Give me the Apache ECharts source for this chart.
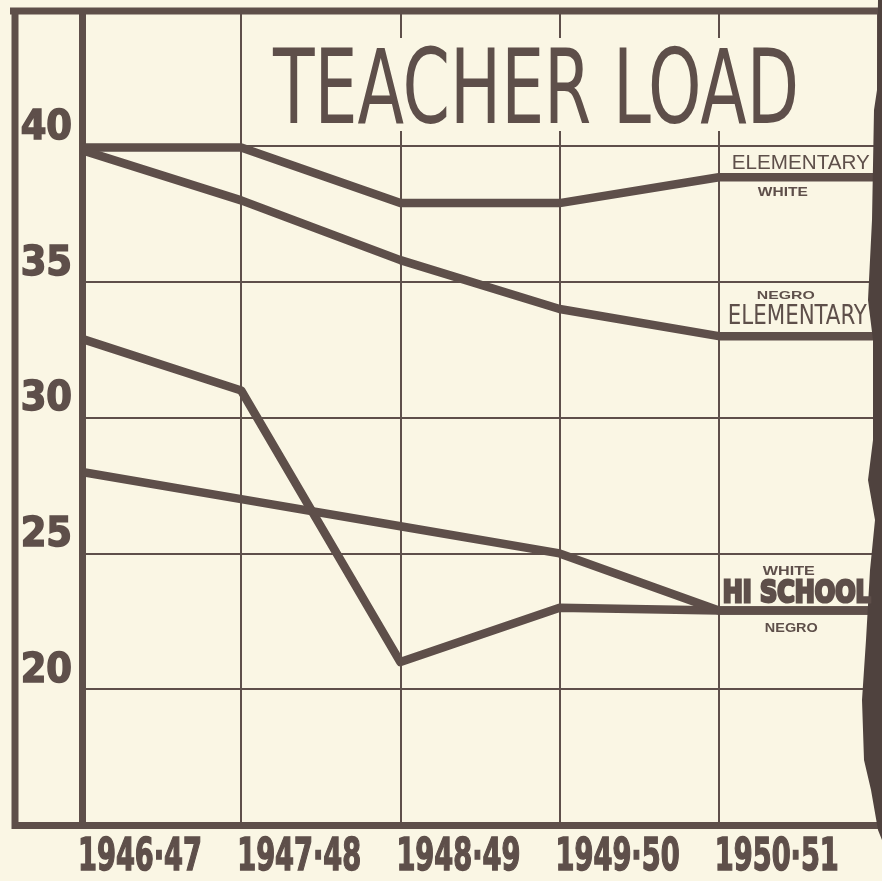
<!DOCTYPE html>
<html><head><meta charset="utf-8">
<script src="https://cdn.jsdelivr.net/npm/echarts@6/dist/echarts.min.js"></script>
<style>html,body{margin:0;padding:0;background:#faf6e4}#c{width:882px;height:881px}</style>
</head><body><div id="c"></div>
<script>
// ---- data ----
const categories = ['1946·47', '1947·48', '1948·49', '1949·50', '1950·51', ''];
const whiteElementary = [39.95, 39.95, 37.9, 37.9, 38.85, 38.85];
const negroElementary = [39.85, 38.0, 35.8, 34.0, 33.0, 33.0];
const negroHiSchool = [32.9, 31.0, 21.0, 23.0, 22.9, 22.9];
const whiteHiSchool = [28.0, 27.0, 26.0, 25.0, 22.9, 22.9];
const yTickLabels = [20, 25, 30, 35, 40];
const titleText = 'TEACHER LOAD';

// ---- style ----
const INK = '#5e4f4a';
const BG = '#faf6e4';
const COND = "'DejaVu Sans Condensed', 'DejaVu Sans', sans-serif";
const SANS = "'Liberation Sans', 'DejaVu Sans', sans-serif";

const chart = echarts.init(document.getElementById('c'), null, {renderer: 'canvas'});

function lineSeries(name, data) {
  return {
    name, type: 'line', data, symbol: 'none', z: 5,
    lineStyle: {color: INK, width: 8.5, join: 'round', cap: 'butt'},
    animation: false
  };
}

chart.setOption({
  backgroundColor: BG,
  animation: false,
  grid: {left: 82, right: 4, top: 13, bottom: 56, containLabel: false, outerBoundsMode: 'none'},
  xAxis: {
    type: 'category', data: categories, boundaryGap: false,
    axisLine: {show: true, lineStyle: {color: INK, width: 7}},
    axisTick: {show: false},
    axisLabel: {show: false, interval: 0},
    splitLine: {show: true, interval: 0, lineStyle: {color: INK, width: 2}}
  },
  yAxis: {
    type: 'value', min: 15, max: 44.9, interval: 5,
    axisLine: {show: true, lineStyle: {color: INK, width: 7}},
    axisTick: {show: false},
    axisLabel: {
      show: true, margin: 10, color: INK,
      fontFamily: COND, fontWeight: 'bold', fontSize: 41,
      textBorderColor: INK, textBorderWidth: 1.5,
      verticalAlign: 'bottom', lineHeight: 36,
      formatter: v => yTickLabels.includes(v) ? String(v) : ''
    },
    splitLine: {show: true, lineStyle: {color: INK, width: 2}}
  },
  series: [
    lineSeries('White Elementary', whiteElementary),
    lineSeries('Negro Elementary', negroElementary),
    lineSeries('Negro Hi School', negroHiSchool),
    lineSeries('White Hi School', whiteHiSchool)
  ]
});

const measureCtx = document.createElement('canvas').getContext('2d');
function textWidth(text, font) { measureCtx.font = font; return measureCtx.measureText(text).width; }

function label(text, font, x, y, targetWidth, opts) {
  opts = opts || {};
  const s = targetWidth ? targetWidth / textWidth(text, font) : (opts.scale || 1);
  const style = {text, font, fill: INK, textAlign: opts.align || 'left', textVerticalAlign: 'middle'};
  if (opts.stroke) { style.stroke = INK; style.lineWidth = opts.stroke; }
  return {type: 'text', x, y, scaleX: s, z: 20, style};
}

const last = categories.length - 2; // 1950-51 index
const toPx = (i, v) => chart.convertToPixel({gridIndex: 0}, [i, v]);
const px = toPx(last, 15)[0];
const yWE = toPx(last, whiteElementary[last])[1];
const yNE = toPx(last, negroElementary[last])[1];
const yHS = toPx(last, negroHiSchool[last])[1];

const titleFont = "normal 104px " + COND;
const xFont = "bold 45px " + COND;
const xScale = 124 / textWidth(categories[0], xFont);

const graphics = [
  // outer frame
  {type: 'line', z: 15, shape: {x1: 10, y1: 11, x2: 882, y2: 11}, style: {stroke: INK, lineWidth: 7}},
  {type: 'line', z: 15, shape: {x1: 15, y1: 8, x2: 15, y2: 829}, style: {stroke: INK, lineWidth: 7}},
  {type: 'line', z: 15, shape: {x1: 12, y1: 825.5, x2: 85, y2: 825.5}, style: {stroke: INK, lineWidth: 7}},
  // title backdrop
  {type: 'rect', z: 1, shape: {x: 252, y: 38, width: 610, height: 93}, style: {fill: BG}},
  // right photo edge
  {type: 'polygon', z: 16, shape: {points: [[882,0],[878,0],[877,90],[874,110],[872,220],[868,300],[873,340],[873,440],[868,480],[875,520],[870,570],[866,640],[862,700],[864,760],[871,790],[878,830],[882,840]]},
    style: {fill: '#4f423e'}},
  // title
  label(titleText, titleFont, 273, 96, 526),
  // white elementary
  label('ELEMENTARY', "normal 20px " + SANS, px + 13, yWE - 14, 138),
  label('WHITE', "bold 12px " + SANS, px + 39, yWE + 15, 50),
  // negro elementary
  label('NEGRO', "bold 11px " + SANS, px + 38, yNE - 40, 58),
  label('ELEMENTARY', "normal 27px " + COND, px + 9, yNE - 19, 139),
  // hi school
  label('WHITE', "bold 12px " + SANS, px + 44, yHS - 39, 52),
  label('HI SCHOOL', "bold 30px 'DejaVu Sans', sans-serif", px + 4, yHS - 16, 148, {stroke: 3}),
  label('NEGRO', "bold 12px " + SANS, px + 46, yHS + 18, 53)
];
// x-axis tick labels, placed at each category tick through the axis scale
categories.forEach((c, i) => {
  if (!c) return;
  graphics.push(label(c, xFont, toPx(i, 15)[0] - 4, 858, 0, {scale: xScale, stroke: 1.5}));
});
chart.setOption({graphic: {elements: graphics}});
</script>
</body></html>
